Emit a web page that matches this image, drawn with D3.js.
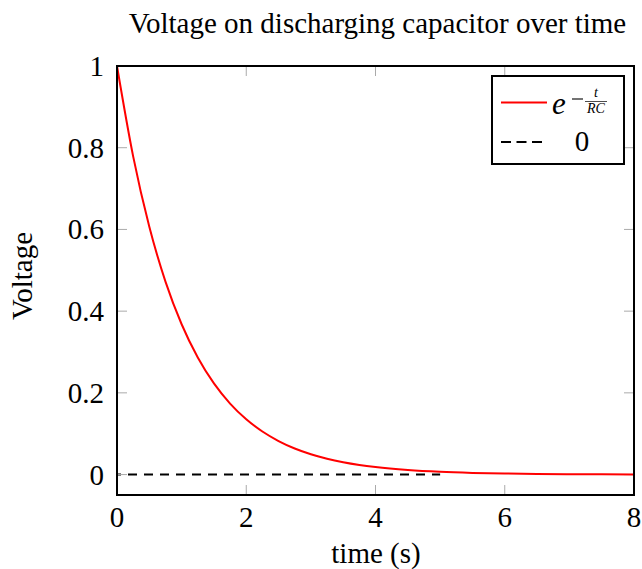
<!DOCTYPE html>
<html><head><meta charset="utf-8">
<script src="https://cdn.jsdelivr.net/npm/d3@7"></script>
<style>body{margin:0;background:#fff}svg{display:block}text{font-family:"Liberation Serif","Times New Roman",serif;fill:#000}</style>
</head><body><svg id="c" width="642" height="569"></svg>
<script>
const tValues = [0,0.25,0.5,0.75,1,1.25,1.5,1.75,2,2.25,2.5,2.75,3,3.25,3.5,3.75,4,4.5,5,5.5,6,6.5,7,7.5,8];
const voltage = [1,0.7788,0.6065,0.4724,0.3679,0.2865,0.2231,0.1738,0.1353,0.1054,0.0821,0.0639,0.0498,0.0388,0.0302,0.0235,0.0183,0.0111,0.0067,0.0041,0.0025,0.0015,0.0009,0.0006,0.0003];
const zeroT = [0,5];
const zeroV = [0,0];
const xTicks = [0,2,4,6,8];
const yTicks = [0,0.2,0.4,0.6,0.8,1];
const yTickLabels = ["0","0.2","0.4","0.6","0.8","1"];

const svg = d3.select("#c");
const L=117,R=634,T=66,B=495;
const x = d3.scaleLinear().domain([0,8]).range([L,R]);
const y = d3.scaleLinear().domain([-0.05,1]).range([B,T]);
const FS=29;
const tick=10;

svg.append("path").datum(zeroT.map((t,i)=>[t,zeroV[i]])).attr("d",d3.line().x(d=>x(d[0])).y(d=>y(d[1])))
  .attr("fill","none").attr("stroke","#000").attr("stroke-width",2).attr("stroke-dasharray","9,7").attr("stroke-dashoffset",5);

const g = svg.append("g");
xTicks.forEach(v=>{
  g.append("line").attr("x1",x(v)).attr("x2",x(v)).attr("y1",B).attr("y2",B-tick).attr("stroke","#aaa").attr("stroke-width",1);
  g.append("line").attr("x1",x(v)).attr("x2",x(v)).attr("y1",T).attr("y2",T+tick).attr("stroke","#aaa").attr("stroke-width",1);
});
yTicks.forEach(v=>{
  g.append("line").attr("x1",L).attr("x2",L+tick).attr("y1",y(v)).attr("y2",y(v)).attr("stroke","#aaa").attr("stroke-width",1);
  g.append("line").attr("x1",R).attr("x2",R-tick).attr("y1",y(v)).attr("y2",y(v)).attr("stroke","#aaa").attr("stroke-width",1);
});

const line = d3.line().x(d=>x(d[0])).y(d=>y(d[1])).curve(d3.curveMonotoneX);
svg.append("path").datum(tValues.map((t,i)=>[t,voltage[i]])).attr("d",line)
  .attr("fill","none").attr("stroke","#ff0000").attr("stroke-width",2);

svg.append("rect").attr("x",L).attr("y",T).attr("width",R-L).attr("height",B-T).attr("fill","none").attr("stroke","#000").attr("stroke-width",2);

xTicks.forEach(v=>{
  svg.append("text").attr("x",x(v)).attr("y",527).attr("text-anchor","middle").attr("font-size",FS).text(String(v));
});
yTicks.forEach((v,i)=>{
  svg.append("text").attr("x",104).attr("y",y(v)+10).attr("text-anchor","end").attr("font-size",FS).text(yTickLabels[i]);
});

svg.append("text").attr("x",376).attr("y",563).attr("text-anchor","middle").attr("font-size",FS).text("time (s)");
svg.append("text").attr("transform","translate(32,276) rotate(-90)").attr("text-anchor","middle").attr("font-size",FS).text("Voltage");
svg.append("text").attr("x",377.5).attr("y",33).attr("text-anchor","middle").attr("font-size",FS).text("Voltage on discharging capacitor over time");

const lg = svg.append("g");
lg.append("rect").attr("x",492).attr("y",76).attr("width",132).attr("height",88).attr("fill","#fff").attr("stroke","#000").attr("stroke-width",2);
lg.append("line").attr("x1",501).attr("x2",547).attr("y1",102.5).attr("y2",102.5).attr("stroke","#ff0000").attr("stroke-width",2);
lg.append("line").attr("x1",501).attr("x2",542).attr("y1",142).attr("y2",142).attr("stroke","#000").attr("stroke-width",2).attr("stroke-dasharray","10,5.5");
lg.append("text").attr("x",552).attr("y",114).attr("font-size",31).attr("font-style","italic").text("e");
lg.append("line").attr("x1",572).attr("x2",583).attr("y1",99).attr("y2",99).attr("stroke","#000").attr("stroke-width",1.1);
lg.append("text").attr("x",596).attr("y",97).attr("text-anchor","middle").attr("font-size",14).attr("font-style","italic").text("t");
lg.append("line").attr("x1",585).attr("x2",607).attr("y1",101.5).attr("y2",101.5).attr("stroke","#000").attr("stroke-width",0.7);
lg.append("text").attr("x",596).attr("y",113).attr("text-anchor","middle").attr("font-size",14).attr("font-style","italic").text("RC");
lg.append("text").attr("x",582).attr("y",151).attr("text-anchor","middle").attr("font-size",29).text("0");
</script></body></html>
